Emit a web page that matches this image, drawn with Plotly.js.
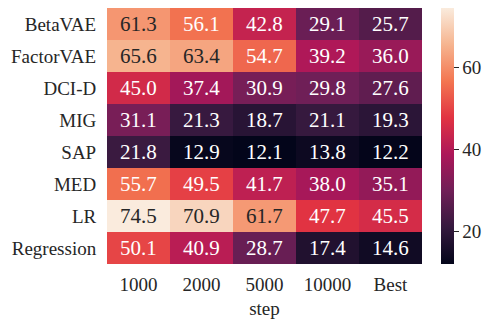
<!DOCTYPE html>
<html>
<head>
<meta charset="utf-8">
<script src="https://cdn.plot.ly/plotly-3.0.1.min.js"></script>
<style>
  html, body { margin: 0; padding: 0; background: #fff; }
  #myDiv { width: 493px; height: 326px; }
</style>
</head>
<body>
<div id="myDiv"></div>
<script>
var steps = ['1000', '2000', '5000', '10000', 'Best'];
var metrics = ['BetaVAE', 'FactorVAE', 'DCI-D', 'MIG', 'SAP', 'MED', 'LR', 'Regression'];

var betaVAE    = [61.3, 56.1, 42.8, 29.1, 25.7];
var factorVAE  = [65.6, 63.4, 54.7, 39.2, 36.0];
var dciD       = [45.0, 37.4, 30.9, 29.8, 27.6];
var mig        = [31.1, 21.3, 18.7, 21.1, 19.3];
var sap        = [21.8, 12.9, 12.1, 13.8, 12.2];
var med        = [55.7, 49.5, 41.7, 38.0, 35.1];
var lr         = [74.5, 70.9, 61.7, 47.7, 45.5];
var regression = [50.1, 40.9, 28.7, 17.4, 14.6];

var z = [betaVAE, factorVAE, dciD, mig, sap, med, lr, regression];

// seaborn "rocket"
var rocket = [
  [0.0, '#03051a'],
  [0.143, '#35193e'],
  [0.286, '#701f57'],
  [0.429, '#ad1759'],
  [0.571, '#e13342'],
  [0.714, '#f37651'],
  [0.857, '#f6b48f'],
  [1.0, '#faebdd']
];

var serif = 'Liberation Serif';
var dark = '#262626';
var xi = steps.map(function (s, j) { return j; });
var yi = metrics.map(function (s, i) { return i; });

var annotations = [];
z.forEach(function (row, i) {
  row.forEach(function (v, j) {
    annotations.push({
      x: j, y: i, xref: 'x', yref: 'y', text: v.toFixed(1),
      showarrow: false,
      font: {family: serif, size: 21, color: v > 58 ? dark : '#ffffff'}
    });
  });
});

var data = [{
  type: 'heatmap',
  x: xi,
  y: yi,
  z: z,
  zmin: 12.1,
  zmax: 74.5,
  colorscale: rocket,
  colorbar: {
    x: 1.06, xanchor: 'left', xpad: 0,
    y: 0.5, yanchor: 'middle', ypad: 0,
    len: 1, lenmode: 'fraction',
    thickness: 13,
    outlinewidth: 0,
    tickvals: [20, 40, 60],
    ticks: 'outside', ticklen: 5, tickwidth: 1, tickcolor: dark,
    tickfont: {family: serif, size: 19, color: dark}
  }
}];

var layout = {
  width: 493,
  height: 326,
  margin: {l: 107, r: 71, t: 8, b: 62},
  paper_bgcolor: '#ffffff',
  plot_bgcolor: '#ffffff',
  font: {family: serif, size: 19, color: dark},
  xaxis: {
    range: [-0.5, 4.5],
    tickvals: xi, ticktext: steps,
    showgrid: false, zeroline: false, showline: false,
    ticks: 'outside', ticklen: 3, tickcolor: 'rgba(0,0,0,0)',
    tickfont: {family: serif, size: 19, color: dark},
    title: {text: 'step', standoff: 7, font: {family: serif, size: 19, color: dark}}
  },
  yaxis: {
    range: [7.5, -0.5],
    tickvals: yi, ticktext: metrics,
    showgrid: false, zeroline: false, showline: false,
    ticks: 'outside', ticklen: 6, tickcolor: 'rgba(0,0,0,0)',
    tickfont: {family: serif, size: 19, color: dark}
  },
  annotations: annotations
};

Plotly.newPlot('myDiv', data, layout, {displayModeBar: false, staticPlot: true});
</script>
</body>
</html>
